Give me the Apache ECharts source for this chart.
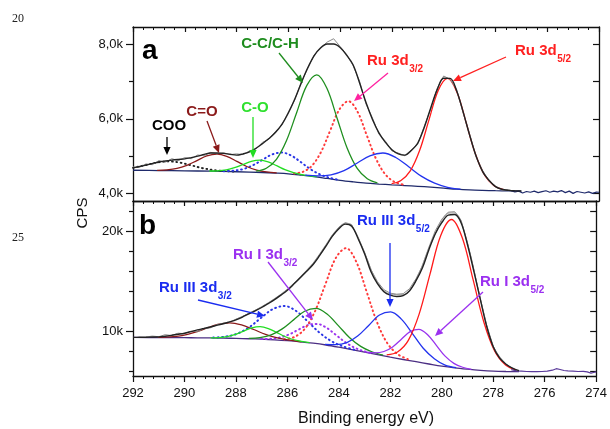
<!DOCTYPE html>
<html><head><meta charset="utf-8">
<script src="https://cdn.jsdelivr.net/npm/echarts@6/dist/echarts.min.js"></script>
<style>html,body{margin:0;padding:0;background:#fff;}#c{width:610px;height:429px;}</style>
</head><body><div id="c"></div>
<script>
// ---------- axis ticks / labels ----------
const xTickValues = [274,276,278,280,282,284,286,288,290,292];
const xTickLabels = ['274','276','278','280','282','284','286','288','290','292'];
const yMajorA = [4000,6000,8000];
const yLabelA = ['4,0k','6,0k','8,0k'];
const yMinorA = [5000,7000];
const yRightA = [4000,5000,6000,7000,8000];
const yMajorB = [10000,20000];
const yLabelB = ['10k','20k'];
const yMinorB = [6000,8000,12000,14000,16000,18000,22000];
const yRightB = [6000,8000,10000,12000,14000,16000,18000,20000,22000];

// ---------- panel a (binding energy eV, CPS) ----------
const bgA = [[292,4620],[291,4612],[290,4605],[289,4595],[288,4580],[287,4560],[286.5,4545],[286,4525],[285.5,4490],[285,4450],[284.5,4400],[284,4350],[283.5,4310],[283,4275],[282.5,4250],[282,4228],[281.5,4210],[281,4190],[280.5,4168],[280,4140],[279.5,4112],[279,4092],[278.5,4080],[278,4072],[277.5,4066],[277,4062]];
const cooA = [[292,4684],[291.45,4768],[291.03,4833],[290.6,4858],[290.18,4824],[289.75,4752],[289.33,4679],[288.9,4627],[288.48,4599],[288.05,4584]];
const c_dO_A = [[291.07,4617],[290.69,4629],[290.3,4668],[289.92,4752],[289.53,4879],[289.15,5003],[288.76,5051],[288.38,4992],[287.99,4859],[287.61,4721],[287.22,4626],[286.84,4575],[286.45,4548]];
const c_sO_A = [[289.05,4600],[288.73,4605],[288.4,4632],[288.08,4688],[287.75,4775],[287.43,4860],[287.1,4892],[286.78,4845],[286.45,4743],[286.13,4637],[285.8,4556],[285.48,4502],[285.15,4466],[284.9,4440]];
const blueDotA = [[288.5,4594],[288.13,4607],[287.75,4651],[287.38,4750],[287,4900],[286.63,5044],[286.25,5095],[285.88,5011],[285.5,4830],[285.13,4642],[284.75,4501],[284.38,4413],[284,4356]];
const ccA = [[287.24,4596],[286.85,4675],[286.46,4914],[286.07,5418],[285.68,6165],[285.29,6891],[284.9,7180],[284.51,6819],[284.12,6024],[283.73,5218],[283.34,4670],[282.95,4392],[282.56,4283]];
const redDotA = [[285.78,4534],[285.43,4579],[285.08,4747],[284.73,5121],[284.38,5692],[284.03,6250],[283.68,6474],[283.33,6195],[282.98,5578],[282.63,4954],[282.28,4531],[281.93,4319],[281.58,4237]];
const blueA = [[285.35,4487],[284.85,4472],[284.35,4499],[283.85,4611],[283.35,4809],[282.85,5008],[282.35,5083],[281.85,4963],[281.35,4713],[280.85,4456],[280.35,4274],[279.85,4163],[279.35,4115]];
const redA = [[282.01,4261],[281.65,4345],[281.29,4602],[280.93,5148],[280.57,5966],[280.21,6762],[279.85,7086],[279.49,6723],[279.13,5892],[278.77,5048],[278.41,4480],[278.05,4203],[277.69,4101]];
const envA = [[292,4684],[291.75,4720],[291.5,4759],[291.25,4800],[291,4843],[290.75,4870],[290.5,4892],[290.25,4910],[290,4926],[289.75,4960],[289.5,4999],[289.25,5045],[289,5082],[288.75,5085],[288.5,5073],[288.25,5048],[288,5027],[287.75,5060],[287.5,5113],[287.25,5210],[287,5334],[286.75,5470],[286.5,5631],[286.25,5851],[286,6157],[285.75,6531],[285.5,6964],[285.25,7370],[285,7697],[284.75,7908],[284.5,8007],[284.25,8010],[284,7916],[283.75,7709],[283.5,7450],[283.25,6970],[283,6437],[282.75,5985],[282.5,5625],[282.25,5370],[282,5171],[281.75,5060],[281.5,5025],[281.25,5150],[281,5351],[280.75,5770],[280.5,6293],[280.25,6784],[280,7088],[279.75,7086],[279.5,6757],[279.25,6195],[279,5569],[278.75,5007],[278.5,4589],[278.25,4350],[278,4182],[277.75,4110],[277.5,4081],[277.25,4068],[277,4062]];
const rawA = [[292,4710],[291.75,4700],[291.5,4790],[291.25,4770],[291,4880],[290.75,4840],[290.5,4930],[290.25,4880],[290,4960],[289.75,4930],[289.5,5030],[289.25,5010],[289,5100],[288.75,5060],[288.5,5090],[288.25,5040],[288,5060],[287.75,5040],[287.5,5140],[287.25,5190],[287,5370],[286.75,5450],[286.5,5660],[286.25,5830],[286,6180],[285.75,6510],[285.5,6990],[285.25,7350],[285,7720],[284.75,7890],[284.5,8060],[284.25,8150],[284,7940],[283.75,7730],[283.5,7430],[283.25,7010],[283,6400],[282.75,6020],[282.5,5590],[282.25,5400],[282,5140],[281.75,5080],[281.5,5010],[281.25,5170],[281,5320],[280.75,5800],[280.5,6260],[280.25,6820],[280,7150],[279.75,7060],[279.5,6790],[279.25,6160],[279,5600],[278.75,4980],[278.5,4620],[278.25,4330],[278,4200],[277.75,4090],[277.5,4100],[277.25,4050]];
const tailA = [[277.4,4070],[277.25,4040],[277.1,4060],[276.95,4010],[276.8,4050],[276.65,4030],[276.5,4060],[276.35,4020],[276.2,4045],[276.05,4070],[275.9,4030],[275.75,4060],[275.6,4040],[275.45,4075],[275.3,4020],[275.15,4060],[275,4000],[274.85,4050],[274.7,4030],[274.55,4010],[274.4,4040],[274.25,4000],[274.1,4035],[274,4030]];

// ---------- panel b ----------
const bgB = [[292,9430],[291,9410],[290,9400],[289.5,9390],[289,9375],[288.5,9355],[288,9330],[287.5,9295],[287,9250],[286.5,9185],[286,9100],[285.5,8990],[285,8850],[284.5,8670],[284,8450],[283.5,8210],[283,7950],[282.5,7700],[282,7450],[281.5,7220],[281,7000],[280.5,6770],[280,6550],[279.5,6380],[279,6250],[278.5,6140],[278,6060],[277.5,6020],[277,6000]];
const c_dO_B = [[291.03,9428],[290.57,9474],[290.1,9612],[289.64,9896],[289.17,10320],[288.71,10729],[288.24,10892],[287.78,10683],[287.31,10218],[286.85,9733],[286.38,9375],[285.92,9153],[285.45,8992]];
const c_sO_B = [[288.98,9388],[288.66,9417],[288.34,9515],[288.02,9735],[287.7,10065],[287.38,10384],[287.06,10500],[286.74,10316],[286.42,9928],[286.1,9521],[285.78,9220],[285.46,9035],[285.14,8904]];
const blueDotB = [[288.88,9408],[288.42,9503],[287.96,9794],[287.5,10415],[287.04,11346],[286.58,12241],[286.12,12570],[285.66,12072],[285.2,11002],[284.74,9880],[284.28,9037],[283.82,8512],[283.36,8178]];
const ccB = [[287.5,9339],[287.07,9416],[286.63,9683],[286.2,10282],[285.76,11183],[285.33,12049],[284.89,12332],[284.46,11766],[284.02,10608],[283.59,9419],[283.15,8533],[282.72,7994],[282.28,7659]];
const purpleDotB = [[287.01,9272],[286.65,9292],[286.29,9418],[285.93,9728],[285.57,10206],[285.21,10657],[284.85,10780],[284.49,10412],[284.13,9711],[283.77,8988],[283.41,8428],[283.05,8062],[282.69,7817]];
const redDotB = [[286.12,9231],[285.72,9482],[285.32,10295],[284.92,12083],[284.52,14766],[284.12,17365],[283.72,18355],[283.32,16975],[282.92,13999],[282.52,10973],[282.12,8865],[281.72,7762],[281.32,7251]];
const blueB = [[284.54,8735],[284.12,8705],[283.69,8915],[283.27,9567],[282.84,10627],[282.42,11671],[281.99,11990],[281.57,11261],[281.14,9817],[280.72,8347],[280.29,7295],[279.87,6660],[279.44,6415]];
const purpleB = [[282.93,7952],[282.59,7890],[282.25,8020],[281.91,8478],[281.57,9245],[281.23,10003],[280.89,10240],[280.55,9698],[280.21,8635],[279.87,7553],[279.53,6835],[279.19,6445],[278.85,6242]];
const redB = [[282.14,7683],[281.72,7971],[281.3,9128],[280.88,11755],[280.46,15731],[280.04,19621],[279.62,21220],[279.2,19361],[278.78,15176],[278.36,10925],[277.94,8053],[277.52,6671],[277.1,6167]];
const envB = [[292,9430],[291.75,9440],[291.5,9450],[291.25,9465],[291,9480],[290.75,9550],[290.5,9640],[290.25,9740],[290,9850],[289.75,10010],[289.5,10180],[289.25,10320],[289,10470],[288.75,10630],[288.5,10790],[288.25,10980],[288,11180],[287.75,11460],[287.5,11780],[287.25,12090],[287,12420],[286.75,12800],[286.5,13200],[286.25,13660],[286,14150],[285.75,14760],[285.5,15400],[285.25,16050],[285,16720],[284.75,17600],[284.5,18550],[284.25,19550],[284,20300],[283.75,20760],[283.5,20550],[283.25,19300],[283,17800],[282.75,16000],[282.5,14800],[282.25,14000],[282,13650],[281.75,13520],[281.5,13600],[281.25,14100],[281,15100],[280.75,16400],[280.5,18200],[280.25,19800],[280,20900],[279.75,21650],[279.5,21720],[279.25,20900],[279,18700],[278.75,16000],[278.5,13200],[278.25,10500],[278,8500],[277.75,7350],[277.5,6750],[277.25,6350],[277,6100]];
const rawB1 = [[291.5,9470],[291.25,9560],[291,9500],[290.75,9700],[290.5,9620],[290.25,9850],[290,9800],[289.75,10050],[289.5,10000],[289.25,10300],[289,10380],[288.75,10700],[288.5,10850],[288.25,10950],[288,11250],[287.75,11500],[287.5,11850],[287.25,12150],[287,12500],[286.75,12880],[286.5,13300],[286.25,13750],[286,14250],[285.75,14850],[285.5,15500],[285.25,16150],[285,16850],[284.75,17750],[284.5,18700],[284.25,19700],[284,20450],[283.75,20900],[283.5,20700],[283.25,19450],[283,17950],[282.75,16200],[282.5,15000],[282.25,14200],[282,13850],[281.75,13750],[281.5,13800],[281.25,14300],[281,15300],[280.75,16600],[280.5,18450],[280.25,20100],[280,21250],[279.75,21950],[279.5,22000],[279.25,21150],[279,18900],[278.75,16150],[278.5,13300],[278.25,10600],[278,8550],[277.75,7400],[277.5,6750],[277.25,6350]];
const rawB2 = [[288,11250],[287.5,11820],[287,12470],[286.5,13260],[286,14200],[285.5,15460],[285,16790],[284.5,18640],[284,20400],[283.75,20850],[283.5,20640],[283,17880],[282.5,14900],[282,13760],[281.5,13700],[281,15220],[280.5,18350],[280,21100],[279.75,21850],[279.5,21880],[279,18820],[278.5,13260],[278,8520],[277.5,6760]];
const tailB = [[277.3,6200],[277.1,6080],[276.9,6050],[276.7,6020],[276.5,6000],[276.3,6010],[276.1,6020],[275.9,6050],[275.7,6150],[275.55,6300],[275.4,6220],[275.25,6120],[275.1,6080],[274.9,6050],[274.7,6020],[274.5,6040],[274.35,5980],[274.2,5860],[274.1,5920],[274,5980]];

// ---------- rendering ----------
const FONT = '"Liberation Sans", Arial, Helvetica, sans-serif';
const chart = echarts.init(document.getElementById('c'), null, {renderer:'canvas'});
const DOT = [0.8, 3.6];

function S(data, panel, color, o) {
  o = o || {};
  return {
    type:'line', data, xAxisIndex: panel === 0 ? 0 : 2, yAxisIndex: panel === 0 ? 0 : 3,
    symbol:'none', smooth: o.smooth === undefined ? 0.35 : o.smooth, silent:true, clip:true,
    lineStyle:{color, width: o.w || 1.3, type: o.type || 'solid', cap: o.type ? 'round' : 'butt'},
    z: o.z || 2, animation:false
  };
}
function xAx(grid, pos, o) {
  return {
    type:'value', gridIndex:grid, position:pos, min:274, max:292, interval:2, inverse:true,
    axisLine:{show:true, onZero:false, lineStyle:{color:'#111', width:1.3}},
    axisTick:{show:o.ticks, inside:o.inside, length:o.inside ? 5 : 6, lineStyle:{color:'#111', width:1.2}},
    minorTick:{show:o.ticks, splitNumber:5, length:3, lineStyle:{color:'#111', width:1}},
    axisLabel:{show:!!o.labels, fontSize:13, fontFamily:FONT, color:'#111', margin:11,
      formatter: v => xTickLabels[xTickValues.indexOf(v)] || ''},
    splitLine:{show:false}, minorSplitLine:{show:false}
  };
}
function yAx(grid, min, max, pos, o) {
  return {
    type:'value', gridIndex:grid, position:pos, min, max,
    axisLine:{show:!!o.line, onZero:false, lineStyle:{color:'#111', width:1.3}},
    axisTick:{show:true, inside:!!o.inside, length:o.len, customValues:o.ticks, lineStyle:{color:'#111', width:1.2}},
    axisLabel:{show:!!o.labels, customValues:o.ticks, fontSize:13, fontFamily:FONT, color:'#111', margin:10,
      formatter: v => { const i = o.ticks.indexOf(v); return o.labels && i >= 0 ? o.labels[i] : ''; }},
    splitLine:{show:false}
  };
}

const series = [
  S(bgA, 0, '#1f2a6b', {w:1.3}),
  S(cooA, 0, '#222222', {type:DOT, w:1.9}),
  S(blueDotA, 0, '#2a36e6', {type:DOT, w:2}),
  S(redDotA, 0, '#ff3b3b', {type:DOT, w:2}),
  S(c_dO_A, 0, '#8b1a1a'),
  S(c_sO_A, 0, '#22dd22'),
  S(ccA, 0, '#1f8f1f'),
  S(blueA, 0, '#2233ee'),
  S(redA, 0, '#ff1a1a'),
  S(rawA, 0, '#8a8a8a', {smooth:false, w:1, z:3}),
  S(tailA, 0, '#1f2a6b', {smooth:false, w:1.2, z:3}),
  S(envA, 0, '#222222', {w:1.4, z:4}),

  S(bgB, 1, '#4b2e83', {w:1.3}),
  S(blueDotB, 1, '#2a36e6', {type:DOT, w:2}),
  S(purpleDotB, 1, '#9b33ee', {type:DOT, w:2}),
  S(redDotB, 1, '#ff3b3b', {type:DOT, w:2}),
  S(c_dO_B, 1, '#8b1a1a'),
  S(c_sO_B, 1, '#22dd22'),
  S(ccB, 1, '#1f8f1f'),
  S(blueB, 1, '#2233ee'),
  S(purpleB, 1, '#9933ee'),
  S(redB, 1, '#ff1a1a'),
  S(rawB1, 1, '#8a8a8a', {smooth:false, w:1, z:3}),
  S(rawB2, 1, '#9a9a9a', {w:1, z:3}),
  S(tailB, 1, '#5a3a9a', {smooth:false, w:1.2, z:3}),
  S(envB, 1, '#222222', {w:1.4, z:4})
];

// text helpers
const ctx = document.createElement('canvas').getContext('2d');
function tw(text, size) { ctx.font = 'bold ' + size + 'px ' + FONT; return ctx.measureText(text).width; }
function T(x, y, text, color, size, align, extra) {
  return Object.assign({type:'text', x, y, z:100, silent:true, style:{text, fill:color, fontSize:size, fontWeight:'bold', fontFamily:FONT,
    align:align || 'center', textAlign:align || 'center', verticalAlign:'middle', textVerticalAlign:'middle'}}, extra || {});
}
function TS(x, y, main, sub, color) {
  const w = tw(main, 15);
  return [T(x, y, main, color, 15, 'left'), T(x + w + 0.5, y + 8.5, sub, color, 10, 'left')];
}
function arrow(x1, y1, x2, y2, color) {
  const a = Math.atan2(y2 - y1, x2 - x1), L = 8, W = 3.6;
  const bx = x2 - L * Math.cos(a), by = y2 - L * Math.sin(a);
  const px = -Math.sin(a) * W, py = Math.cos(a) * W;
  return [
    {type:'line', z:100, silent:true, shape:{x1, y1, x2:bx, y2:by}, style:{stroke:color, lineWidth:1.3}},
    {type:'polygon', z:100, silent:true, shape:{points:[[x2, y2],[bx + px, by + py],[bx - px, by - py]]}, style:{fill:color}}
  ];
}

const RED = '#ff2020', BLUE = '#1a2cf0', PURP = '#9b30f0';
const graphics = [].concat(
  [T(12, 19, '20', '#222', 12, 'left', {}), T(12, 238, '25', '#222', 12, 'left', {})].map(g => { g.style.fontWeight = 'normal'; g.style.fontFamily = '"Liberation Serif", "Times New Roman", serif'; return g; }),
  [T(142, 51, 'a', '#000', 28, 'left'), T(139, 226, 'b', '#000', 28, 'left')],
  [T(169, 126, 'COO', '#000', 15), T(202, 112, 'C=O', '#8b1a1a', 15), T(255, 108, 'C-O', '#2ee02e', 15), T(270, 44, 'C-C/C-H', '#1e8c1e', 15)],
  TS(367, 61, 'Ru 3d', '3/2', RED),
  TS(515, 51, 'Ru 3d', '5/2', RED),
  TS(159, 288, 'Ru III 3d', '3/2', BLUE),
  TS(233, 255, 'Ru I 3d', '3/2', PURP),
  TS(357, 221, 'Ru III 3d', '5/2', BLUE),
  TS(480, 282, 'Ru I 3d', '5/2', PURP),
  arrow(167, 137, 167, 155, '#000'),
  arrow(207, 121, 219, 153, '#8b1a1a'),
  arrow(253, 117, 253, 158, '#22dd22'),
  arrow(279, 53, 303, 83, '#1e8c1e'),
  arrow(388, 73, 354, 101, '#ff22a0'),
  arrow(506, 57, 453, 81, RED),
  arrow(198, 300, 265, 316, BLUE),
  arrow(268, 262, 313, 320, PURP),
  arrow(390, 243, 390, 307, BLUE),
  arrow(483, 292, 435, 336, PURP),
  [T(83, 213, 'CPS', '#111', 15, 'center', {rotation: Math.PI / 2}), ],
  [T(366, 419, 'Binding energy eV)', '#111', 16, 'center')]
);
graphics.forEach(g => { if (g.type === 'text' && (g.style.text === 'CPS' || g.style.text === 'Binding energy eV)')) g.style.fontWeight = 'normal'; });

chart.setOption({
  animation:false,
  backgroundColor:'#ffffff',
  grid:[
    {left:133, top:27, width:466, height:174, containLabel:false},
    {left:133, top:201, width:466, height:175, containLabel:false}
  ],
  xAxis:[
    xAx(0, 'bottom', {ticks:false}),
    xAx(0, 'top', {ticks:true, inside:true}),
    xAx(1, 'bottom', {ticks:true, inside:false, labels:true}),
    xAx(1, 'top', {ticks:true, inside:true})
  ],
  yAxis:[
    yAx(0, 3795, 8465, 'left', {line:true, ticks:yMajorA, labels:yLabelA, len:7}),
    yAx(0, 3795, 8465, 'left', {ticks:yMinorA, len:4}),
    yAx(0, 3795, 8465, 'right', {line:true, inside:true, ticks:yRightA, len:6}),
    yAx(1, 5570, 23070, 'left', {line:true, ticks:yMajorB, labels:yLabelB, len:7}),
    yAx(1, 5570, 23070, 'left', {ticks:yMinorB, len:4}),
    yAx(1, 5570, 23070, 'right', {line:true, inside:true, ticks:yRightB, len:6})
  ],
  series,
  graphic: graphics
});
</script></body></html>
